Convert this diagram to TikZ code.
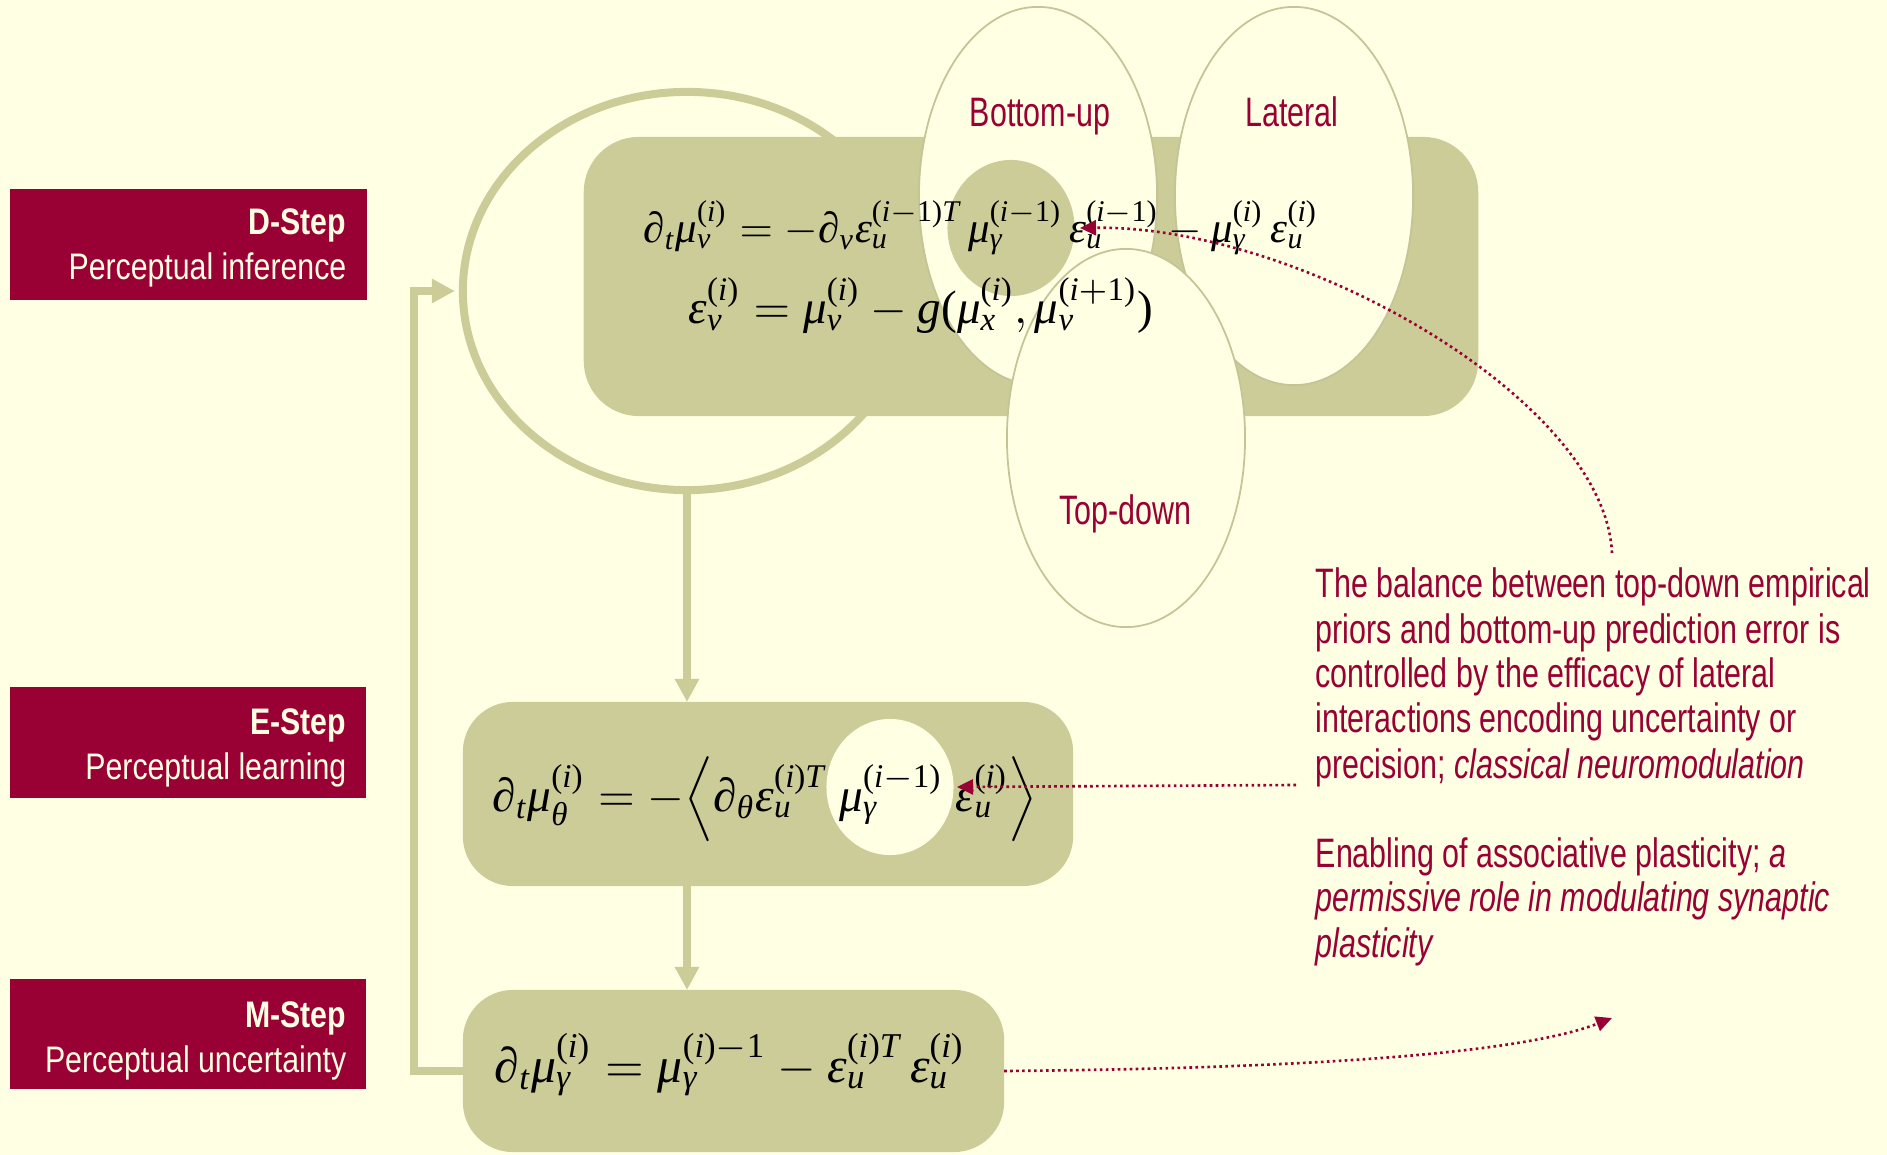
\documentclass[tikz,border=0pt]{standalone}
\usepackage[no-math]{fontspec}
\usepackage{graphicx}
\usetikzlibrary{shapes.geometric,arrows.meta,calc}
\newfontfamily\lblfont[FakeStretch=0.82]{Liberation Sans}
\newfontfamily\notefont[FakeStretch=0.74]{Liberation Sans}
\newfontfamily\lsf[NFSSFamily=lsf]{Liberation Serif}
\DeclareSymbolFont{lsit}{TU}{lsf}{m}{it}
\DeclareSymbolFont{lsup}{TU}{lsf}{m}{n}
\Umathcode`t="0 \symlsit `t
\Umathcode`v="0 \symlsit `v
\Umathcode`u="0 \symlsit `u
\Umathcode`x="0 \symlsit `x
\Umathcode`i="0 \symlsit `i
\Umathcode`g="0 \symlsit `g
\Umathcode`T="0 \symlsit `T
\Umathcode`1="0 \symlsup `1
\Umathcode`(="4 \symlsup `(
\Umathcode`)="5 \symlsup `)
\Umathchardef\lmu="0 \symlsit "03BC
\Umathchardef\leps="0 \symlsit "03B5
\Umathchardef\lgam="0 \symlsit "03B3
\Umathchardef\lthe="0 \symlsit "03B8
\Umathchardef\lpar="0 \symlsup "2202
\definecolor{bgc}{RGB}{255,255,228}
\definecolor{olive}{RGB}{204,204,153}
\definecolor{oline}{RGB}{196,196,150}
\definecolor{wine}{RGB}{153,0,51}
\tikzset{
 lbl/.style={fill=wine, minimum width=3.56cm, minimum height=1.1cm, inner sep=0, outer sep=0},
 lbltext/.style={text=bgc, font=\lblfont\fontsize{10.5pt}{12.8pt}\selectfont, inner sep=0, anchor=base east},
 eqbox/.style={fill=olive, rounded corners=0.5cm, inner sep=0, outer sep=0},
 bub/.style={ellipse, draw=oline, line width=0.5pt, fill=bgc, inner sep=0, minimum width=2.38cm, minimum height=3.78cm},
 blob/.style={ellipse, inner sep=0, minimum width=1.27cm, minimum height=1.36cm},
 note/.style={text=wine, font=\notefont\fontsize{11.7pt}{12.8pt}\selectfont, inner sep=0, anchor=base west},
 flow/.style={draw=olive, line width=0.08cm},
 flowarrow/.style={flow, -{Triangle[width=0.23cm,length=0.23cm]}},
 dots/.style={draw=wine, line width=0.75pt, dash pattern=on 0.75pt off 0.95pt, -{Triangle[width=0.15cm,length=0.16cm]}},
 eqn/.style={inner sep=0, anchor=base west},
}
\begin{document}
\begin{tikzpicture}[x=0.01cm,y=-0.01cm]
\fill[bgc] (0,0) rectangle (1887,1155);
\useasboundingbox (0,0) rectangle (1887,1155);

% left step labels
\node[lbl] (dlab) at (188.5,244.5) {};
\node[lbltext] (dstep) at (347,235) {\bfseries D-Step};
\node[lbltext] (dsub) at (347,280) {Perceptual inference};
\node[lbl] (elab) at (188,742.5) {};
\node[lbltext] (estep) at (347,735) {\bfseries E-Step};
\node[lbltext] (esub) at (347,780) {Perceptual learning};
\node[lbl] (mlab) at (188,1034) {};
\node[lbltext] (mstep) at (347,1027) {\bfseries M-Step};
\node[lbltext] (msub) at (347,1072) {Perceptual uncertainty};

% ring behind D box
\node[ellipse, draw=olive, line width=0.08cm, minimum width=4.48cm, minimum height=3.98cm, inner sep=0] (ring) at (687,291) {};

% D box
\node[eqbox, minimum width=8.94cm, minimum height=2.79cm, rounded corners=0.55cm] (dbox) at (1031,276.5) {};

% bubbles
\node[bub] (lateral) at (1294,196) {};
\node[bub] (bottomup) at (1038,196) {};
\node[blob, fill=olive] (dblob) at (1011,228) {};
\node[bub] (topdown) at (1126,438) {};

% E and M boxes
\node[eqbox, minimum width=6.10cm, minimum height=1.84cm] (ebox) at (768,794) {};
\node[blob, fill=bgc] (eblob) at (890,787) {};
\node[eqbox, minimum width=5.41cm, minimum height=1.62cm] (mbox) at (733.5,1071) {};

% flow arrows
\coordinate (lpt) at (414,291);
\draw[flowarrow, shorten >=0.04cm] (mbox.west) -| (lpt) -- (ring.west);
\draw[flowarrow] (ring.south) -- (ring.south |- ebox.north);
\draw[flowarrow] (ebox.south -| ring.south) -- (mbox.north -| ring.south);

% equations
\node[eqn] (eq1) at (643,243) {\resizebox{6.74cm}{!}{$\lpar_t\lmu_v^{(i)} = -\lpar_v\leps_u^{(i-1)T}\,\lmu_\lgam^{(i-1)}\,\leps_u^{(i-1)} - \lmu_\lgam^{(i)}\,\leps_u^{(i)}$}};
\node[eqn] (eq2) at (688,324) {\resizebox{4.64cm}{!}{$\leps_v^{(i)} = \lmu_v^{(i)} - g(\lmu_x^{(i)},\lmu_v^{(i+1)})$}};
\node[eqn] (eq3) at (492,811) {\resizebox{5.44cm}{!}{$\lpar_t\lmu_\lthe^{(i)} = -\Big\langle\lpar_\lthe\leps_u^{(i)T}\;\lmu_\lgam^{(i-1)}\;\leps_u^{(i)}\Big\rangle$}};
\node[eqn] (eq4) at (494,1082) {\resizebox{4.70cm}{!}{$\lpar_t\lmu_\lgam^{(i)} = \lmu_\lgam^{(i)-1} - \leps_u^{(i)T}\,\leps_u^{(i)}$}};

% bubble labels
\node[note, anchor=base] (bul) at (1040,127) {Bottom-up};
\node[note, anchor=base] (latl) at (1292,127) {Lateral};
\node[note, anchor=base] (tdl) at (1125,525) {Top-down};

% notes
\node[note] (l1) at (1315,598) {The balance between top-down empirical};
\node[note] (l2) at (1315,643) {priors and bottom-up prediction error is};
\node[note] (l3) at (1315,688) {controlled by the efficacy of lateral};
\node[note] (l4) at (1315,733) {interactions encoding uncertainty or};
\node[note] (l5) at (1315,778) {precision; \textit{classical neuromodulation}};
\node[note] (l6) at (1315,867) {Enabling of associative plasticity; \textit{a}};
\node[note] (l7) at (1315,912) {\textit{permissive role in modulating synaptic}};
\node[note] (l8) at (1315,957) {\textit{plasticity}};

% dotted pointers
\coordinate (c1s) at (1612,553);
\coordinate (c1e) at (1080,228);
\draw[dots] (c1s) .. controls (1605,400) and (1300,225) .. (c1e);
\coordinate (c2s) at (1296,785);
\coordinate (c2e) at (957,787);
\draw[dots] (c2s) -- (c2e);
\coordinate (c3e) at (1612,1018);
\draw[dots] (mbox.east) .. controls (1350,1068) and (1530,1050) .. (c3e);
\end{tikzpicture}
\end{document}
